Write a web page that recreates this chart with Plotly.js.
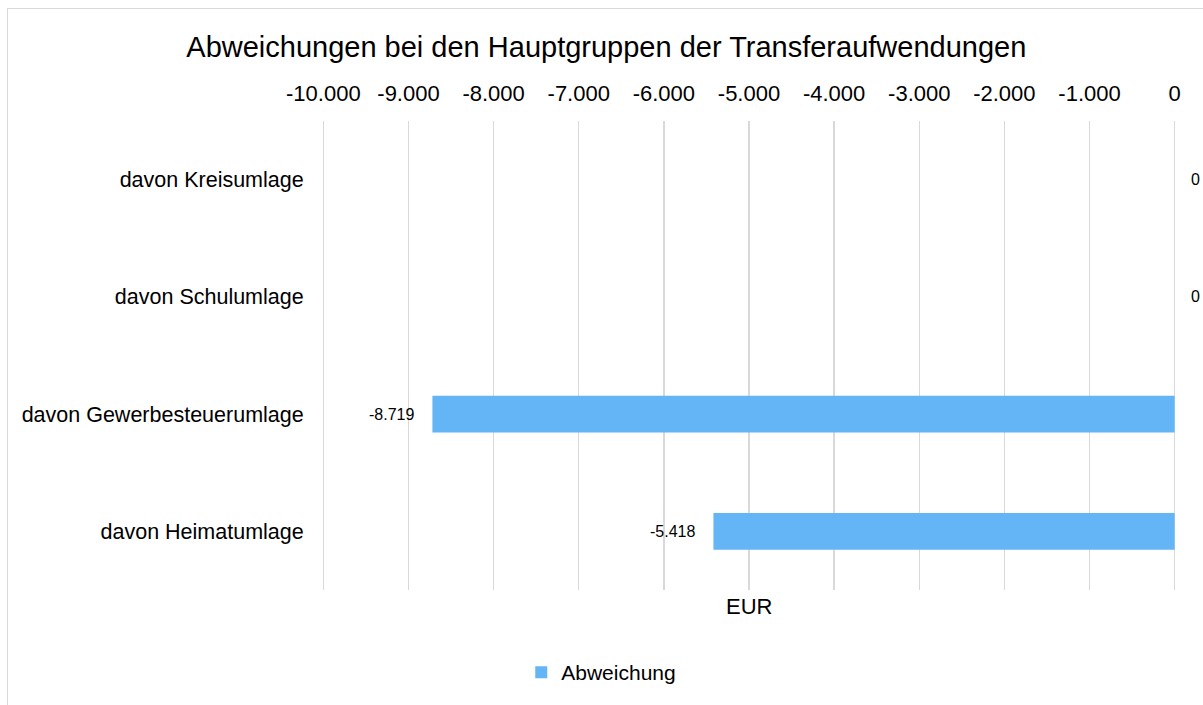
<!DOCTYPE html>
<html>
<head>
<meta charset="utf-8">
<script src="https://cdn.plot.ly/plotly-3.0.1.min.js"></script>
<style>
html,body{margin:0;padding:0;background:#fff;overflow:hidden;}
#frame{position:absolute;left:7px;top:8px;width:1400px;height:900px;border:1px solid #d9d9d9;box-sizing:border-box;}
#chart{position:absolute;left:0;top:0;width:1203px;height:705px;}
</style>
</head>
<body>
<div id="frame"></div>
<div id="chart"></div>
<script>
const categories = ["davon Kreisumlage", "davon Schulumlage", "davon Gewerbesteuerumlage", "davon Heimatumlage"];
const values = [0, 0, -8719, -5418];
const tickValues = [-10000, -9000, -8000, -7000, -6000, -5000, -4000, -3000, -2000, -1000, 0];
const tickLabels = ["-10.000", "-9.000", "-8.000", "-7.000", "-6.000", "-5.000", "-4.000", "-3.000", "-2.000", "-1.000", "0"];
const seriesName = "Abweichung";
const chartTitle = "Abweichungen bei den Hauptgruppen der Transferaufwendungen";
const axisTitle = "EUR";

function fmtDE(v) {
  const s = Math.abs(v).toString().replace(/\B(?=(\d{3})+(?!\d))/g, ".");
  return (v < 0 ? "-" : "") + s;
}

const FONT = "Liberation Sans, Arial, sans-serif";

const trace = {
  type: "bar",
  orientation: "h",
  x: values,
  y: categories,
  name: seriesName,
  marker: {color: "#64b5f6", line: {width: 0}},
  hoverinfo: "skip"
};

const annotations = categories.map((c, i) => ({
  x: values[i], y: c, xref: "x", yref: "y",
  text: fmtDE(values[i]),
  showarrow: false,
  xanchor: values[i] < 0 ? "right" : "left",
  xshift: values[i] < 0 ? -16 : 14,
  font: {family: FONT, size: 16, color: "#000"}
}));
annotations.push({
  x: 0.5, y: -0.036, xref: "paper", yref: "paper",
  text: axisTitle, showarrow: false, xanchor: "center", yanchor: "middle",
  font: {family: FONT, size: 22, color: "#000"}
});

const layout = {
  width: 1203, height: 705,
  paper_bgcolor: "rgba(0,0,0,0)",
  plot_bgcolor: "rgba(0,0,0,0)",
  margin: {l: 322, r: 27, t: 121, b: 112},
  title: {text: chartTitle, x: 0.504, xanchor: "center", y: 0.933, yanchor: "middle", yref: "container",
          font: {family: FONT, size: 29, color: "#000"}},
  font: {family: FONT, color: "#000"},
  bargap: 0.686,
  showlegend: true,
  legend: {orientation: "h", x: 0.327, xanchor: "center", y: -0.176, yanchor: "middle",
           font: {family: FONT, size: 21, color: "#000"}},
  xaxis: {
    side: "top",
    range: [-10016, 16],
    tickvals: tickValues,
    ticktext: tickLabels,
    showgrid: true, gridcolor: "#d9d9d9", gridwidth: 1.5,
    zeroline: true, zerolinecolor: "#d9d9d9", zerolinewidth: 1.5,
    showline: false,
    ticks: "outside", ticklen: 10, tickcolor: "rgba(0,0,0,0)",
    tickfont: {family: FONT, size: 22, color: "#000"},
    fixedrange: true
  },
  yaxis: {
    autorange: "reversed",
    showgrid: false, zeroline: false, showline: false,
    ticks: "outside", ticklen: 13, tickcolor: "rgba(0,0,0,0)",
    tickfont: {family: FONT, size: 21.5, color: "#000"},
    fixedrange: true
  },
  annotations: annotations
};

Plotly.newPlot("chart", [trace], layout, {displayModeBar: false, staticPlot: true});
</script>
</body>
</html>
